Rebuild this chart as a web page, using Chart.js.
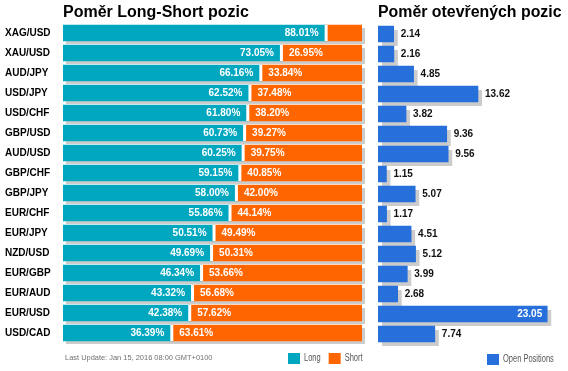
<!DOCTYPE html>
<html>
<head>
<meta charset="utf-8">
<script src="https://cdn.jsdelivr.net/npm/chart.js@4/dist/chart.umd.min.js"></script>
<style>
  html, body { margin: 0; padding: 0; background: #ffffff; }
  #wrap { position: relative; width: 568px; height: 371px; overflow: hidden; }
  #c1 { position: absolute; left: 0; top: 0; }
  #c2 { position: absolute; left: 370px; top: 0; }
</style>
</head>
<body>
<div id="wrap">
  <canvas id="c1" width="370" height="371"></canvas>
  <canvas id="c2" width="198" height="371"></canvas>
</div>
<script>
// ---------- data ----------
const pairs = ['XAG/USD','XAU/USD','AUD/JPY','USD/JPY','USD/CHF','GBP/USD','AUD/USD','GBP/CHF',
               'GBP/JPY','EUR/CHF','EUR/JPY','NZD/USD','EUR/GBP','EUR/AUD','EUR/USD','USD/CAD'];
const longPct  = [88.01,73.05,66.16,62.52,61.80,60.73,60.25,59.15,58.00,55.86,50.51,49.69,46.34,43.32,42.38,36.39];
const shortPct = [11.99,26.95,33.84,37.48,38.20,39.27,39.75,40.85,42.00,44.14,49.49,50.31,53.66,56.68,57.62,63.61];
const openPositions = [2.14,2.16,4.85,13.62,3.82,9.36,9.56,1.15,5.07,1.17,4.51,5.12,3.99,2.68,23.05,7.74];
const titleLongShort = 'Poměr Long-Short pozic';
const titleOpen = 'Poměr otevřených pozic';
const seriesLong = 'Long';
const seriesShort = 'Short';
const seriesOpen = 'Open Positions';
const lastUpdate = 'Last Update: Jan 15, 2016 08:00 GMT+0100';

// ---------- styles ----------
const FONT = '"Liberation Sans", Arial, Helvetica, sans-serif';
const TEAL = '#01a7bf';
const ORANGE = '#ff6600';
const BLUE = '#2770db';
const SHADOW = '#cccccc';
Chart.defaults.font.family = FONT;

// shadow behind every row of bars
const shadowPlugin = {
  id: 'shadow',
  beforeDatasetsDraw(chart, args, opts) {
    const ctx = chart.ctx;
    const metas = chart.getSortedVisibleDatasetMetas();
    const n = chart.data.labels.length;
    ctx.save();
    ctx.fillStyle = opts.color;
    for (let i = 0; i < n; i++) {
      let l = Infinity, r = -Infinity, t = 0, b = 0;
      metas.forEach(m => {
        const p = m.data[i].getProps(['x', 'y', 'base', 'height'], true);
        l = Math.min(l, p.base, p.x); r = Math.max(r, p.base, p.x);
        t = p.y - p.height / 2; b = p.y + p.height / 2;
      });
      ctx.fillRect(l + opts.dx, t + opts.dy, r - l, b - t);
    }
    ctx.restore();
  }
};

// gap between long and short + value labels
const valueLabelPlugin = {
  id: 'valueLabels',
  afterDatasetsDraw(chart, args, opts) {
    const ctx = chart.ctx;
    const metas = chart.getSortedVisibleDatasetMetas();
    const area = chart.chartArea;
    ctx.save();
    ctx.font = 'bold 10px ' + FONT;
    ctx.textBaseline = 'middle';
    if (opts.mode === 'split') {
      const mL = metas[0], mS = metas[1];
      mL.data.forEach((el, i) => {
        const p = el.getProps(['x', 'y', 'base', 'height'], true);
        const ps = mS.data[i].getProps(['x', 'y', 'base', 'height'], true);
        // white gap
        ctx.fillStyle = '#ffffff';
        ctx.fillRect(p.x - 1.5, p.y - p.height / 2, 3, p.height);
        const lt = longPct[i].toFixed(2) + '%';
        const st = shortPct[i].toFixed(2) + '%';
        ctx.fillStyle = '#ffffff';
        const lw = ctx.measureText(lt).width;
        if (p.x - p.base - 1.5 >= lw + 12) {
          ctx.textAlign = 'right';
          ctx.fillText(lt, p.x - 7.5, p.y);
        }
        const sw = ctx.measureText(st).width;
        if (ps.x - ps.base - 1.5 >= sw + 12) {
          ctx.textAlign = 'left';
          ctx.fillText(st, ps.base + 7.5, ps.y);
        }
      });
    } else {
      const m = metas[0];
      m.data.forEach((el, i) => {
        const p = el.getProps(['x', 'y', 'base', 'height'], true);
        const txt = openPositions[i].toFixed(2);
        const w = ctx.measureText(txt).width;
        if (p.x + 7 + w > area.right) {
          ctx.fillStyle = '#ffffff';
          ctx.textAlign = 'right';
          ctx.fillText(txt, p.x - 5, p.y);
        } else {
          ctx.fillStyle = '#111111';
          ctx.textAlign = 'left';
          ctx.fillText(txt, p.x + 7, p.y);
        }
      });
    }
    ctx.restore();
  }
};

// legend boxes + note drawn at the foot of the chart
function condensedText(ctx, text, x, y, size, sx, color) {
  ctx.save();
  ctx.font = size + 'px ' + FONT;
  const w = ctx.measureText(text).width * sx;
  ctx.translate(x, y);
  ctx.scale(sx, 1);
  ctx.fillStyle = color;
  ctx.textAlign = 'left';
  ctx.textBaseline = 'middle';
  ctx.fillText(text, 0, 0);
  ctx.restore();
  return w;
}
const footerPlugin = {
  id: 'footer',
  afterDraw(chart, args, opts) {
    const ctx = chart.ctx;
    let x = opts.x;
    chart.data.datasets.forEach(ds => {
      ctx.fillStyle = ds.backgroundColor;
      ctx.fillRect(x, opts.y, 12, 11);
      const w = condensedText(ctx, ds.label, x + 16, opts.y + 5, 10, 0.75, '#555555');
      x += 16 + w + 8;
    });
    if (opts.note) {
      condensedText(ctx, opts.note, opts.noteX, opts.noteY, 8, 0.93, '#707070');
    }
  }
};

const hiddenGrid = { display: false, drawTicks: false };

// ---------- left chart: long / short ratio ----------
new Chart(document.getElementById('c1'), {
  type: 'bar',
  data: {
    labels: pairs,
    datasets: [
      { label: seriesLong, data: longPct, backgroundColor: TEAL, barThickness: 16, borderWidth: 0 },
      { label: seriesShort, data: shortPct, backgroundColor: ORANGE, barThickness: 16, borderWidth: 0 }
    ]
  },
  options: {
    indexAxis: 'y',
    responsive: false,
    animation: false,
    devicePixelRatio: 1,
    layout: { padding: { left: 5, right: 8, top: 0, bottom: 28 } },
    scales: {
      x: {
        stacked: true, min: 0, max: 100, position: 'top',
        grid: hiddenGrid, border: { display: false }, ticks: { display: false },
        title: {
          display: true, text: titleLongShort, align: 'start', color: '#000000',
          font: { size: 16, weight: 'bold', lineHeight: 1.2 },
          padding: { top: 3, bottom: 0.8 }
        }
      },
      y: {
        stacked: true,
        grid: hiddenGrid, border: { display: false },
        ticks: { crossAlign: 'far', color: '#000000', padding: 0, font: { size: 10, weight: 'bold' } },
        afterFit(scale) { scale.width = 58; }
      }
    },
    plugins: {
      legend: { display: false },
      tooltip: { enabled: false },
      shadow: { dx: 3, dy: 3, color: SHADOW },
      valueLabels: { mode: 'split' },
      footer: { x: 288, y: 353, note: lastUpdate, noteX: 65, noteY: 358 }
    }
  },
  plugins: [shadowPlugin, valueLabelPlugin, footerPlugin]
});

// ---------- right chart: open positions ----------
new Chart(document.getElementById('c2'), {
  type: 'bar',
  data: {
    labels: pairs,
    datasets: [
      { label: seriesOpen, data: openPositions, backgroundColor: BLUE, barThickness: 16, borderWidth: 0 }
    ]
  },
  options: {
    indexAxis: 'y',
    responsive: false,
    animation: false,
    devicePixelRatio: 1,
    layout: { padding: { left: 8, right: 6.45, top: 0, bottom: 27 } },
    scales: {
      x: {
        min: 0, max: 25, position: 'top',
        grid: hiddenGrid, border: { display: false }, ticks: { display: false },
        title: {
          display: true, text: titleOpen, align: 'start', color: '#000000',
          font: { size: 16, weight: 'bold', lineHeight: 1.2 },
          padding: { top: 3, bottom: 1.8 }
        }
      },
      y: { display: false }
    },
    plugins: {
      legend: { display: false },
      tooltip: { enabled: false },
      shadow: { dx: 4, dy: 4, color: SHADOW },
      valueLabels: { mode: 'single' },
      footer: { x: 117, y: 354 }
    }
  },
  plugins: [shadowPlugin, valueLabelPlugin, footerPlugin]
});
</script>
</body>
</html>
